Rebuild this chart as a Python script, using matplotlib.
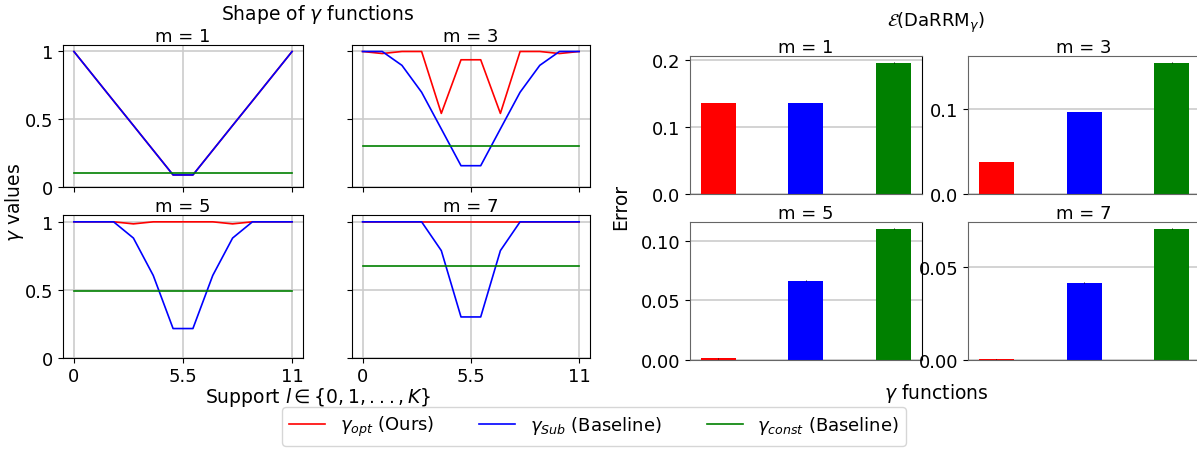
import matplotlib
matplotlib.use("Agg")
import matplotlib.pyplot as plt
import numpy as np

# ---- data ----
support = list(range(12))
m_values = [1, 3, 5, 7]

gamma_opt = {
    1: [1.0, 0.818, 0.636, 0.455, 0.273, 0.091, 0.091, 0.273, 0.455, 0.636, 0.818, 1.0],
    3: [1.0, 0.985, 1.0, 1.0, 0.544, 0.939, 0.939, 0.544, 1.0, 1.0, 0.985, 1.0],
    5: [1.0, 1.0, 1.0, 0.985, 1.0, 1.0, 1.0, 1.0, 0.985, 1.0, 1.0, 1.0],
    7: [1.0, 1.0, 1.0, 1.0, 1.0, 1.0, 1.0, 1.0, 1.0, 1.0, 1.0, 1.0],
}
gamma_sub = {
    1: [1.0, 0.818, 0.636, 0.455, 0.273, 0.091, 0.091, 0.273, 0.455, 0.636, 0.818, 1.0],
    3: [1.0, 1.0, 0.898, 0.70, 0.43, 0.159, 0.159, 0.43, 0.70, 0.898, 1.0, 1.0],
    5: [1.0, 1.0, 1.0, 0.881, 0.607, 0.218, 0.218, 0.607, 0.881, 1.0, 1.0, 1.0],
    7: [1.0, 1.0, 1.0, 1.0, 0.789, 0.303, 0.303, 0.789, 1.0, 1.0, 1.0, 1.0],
}
gamma_const = {1: 0.102, 3: 0.302, 5: 0.49, 7: 0.673}

methods = ["opt", "Sub", "const"]
err_opt = [0.1358, 0.0375, 0.0012, 0.0002]
err_sub = [0.1358, 0.0960, 0.0667, 0.0417]
err_const = [0.1960, 0.1540, 0.1107, 0.0710]
err_std = [0.0004, 0.0004, 0.0003, 0.0002]

xticks = [0, 5.5, 11]
xticklabels = ["0", "5.5", "11"]
yticks = [0, 0.5, 1]
yticklabels = ["0", "0.5", "1"]

bar_yticks = [[0.0, 0.1, 0.2], [0.0, 0.1], [0.0, 0.05, 0.10], [0.0, 0.05]]
bar_yticklabels = [["0.0", "0.1", "0.2"], ["0.0", "0.1"], ["0.00", "0.05", "0.10"], ["0.00", "0.05"]]

colors = ["red", "blue", "green"]
labels = [r"$\gamma_{opt}$ (Ours)", r"$\gamma_{Sub}$ (Baseline)", r"$\gamma_{const}$ (Baseline)"]

W, H = 1197, 452
fig = plt.figure(figsize=(W / 100, H / 100), dpi=100)

def ax_px(l, r, t, b):
    return fig.add_axes([l / W, 1 - b / H, (r - l) / W, (b - t) / H])

TICK_FS = 13
TITLE_FS = 13
LABEL_FS = 13.5

# ---- left: line plots ----
left_boxes = [(63, 303, 45.7, 188.3), (351.7, 590, 45.7, 188.3),
              (63, 303, 216, 359.3), (351.7, 590, 216, 359.3)]
handles = []
for i, m in enumerate(m_values):
    ax = ax_px(*left_boxes[i])
    h1, = ax.plot(support, gamma_opt[m], color=colors[0], lw=1.2)
    h2, = ax.plot(support, gamma_sub[m], color=colors[1], lw=1.2)
    h3, = ax.plot(support, [gamma_const[m]] * len(support), color=colors[2], lw=1.2)
    if i == 0:
        handles = [h1, h2, h3]
    ax.set_ylim(0, 1.05)
    ax.set_xticks(xticks)
    ax.set_yticks(yticks)
    ax.grid(True, color="0.8", lw=1.2)
    ax.set_axisbelow(True)
    ax.tick_params(axis="x", pad=2.5)
    ax.set_title(f"m = {m}", fontsize=TITLE_FS, pad=2)
    if i >= 2:
        ax.set_xticklabels(xticklabels, fontsize=TICK_FS)
    else:
        ax.set_xticklabels([])
    if i % 2 == 0:
        ax.set_yticklabels(yticklabels, fontsize=TICK_FS)
    else:
        ax.set_yticklabels([])

fig.text(318 / W, 1 - 14 / H, r"Shape of $\gamma$ functions", ha="center", va="center", fontsize=LABEL_FS)
fig.text(14 / W, 1 - 202 / H, r"$\gamma$ values", ha="center", va="center", rotation=90, fontsize=LABEL_FS)
fig.text(318 / W, 1 - 398 / H, r"Support $l \in \{0, 1, ..., K\}$", ha="center", va="center", fontsize=LABEL_FS)

# ---- right: bar plots ----
right_boxes = [(690, 921.7, 56.7, 195), (968.3, 1200, 56.7, 195),
               (690, 921.7, 222.7, 360.7), (968.3, 1200, 222.7, 360.7)]
bar_vals = [err_opt, err_sub, err_const]
for i, m in enumerate(m_values):
    ax = ax_px(*right_boxes[i])
    x = np.arange(len(methods))
    vals = [bar_vals[k][i] for k in range(3)]
    ax.bar(x, vals, width=0.4, color=colors, yerr=err_std[i], ecolor="black",
           error_kw=dict(lw=0.6))
    ax.set_xticks([])
    ax.set_yticks(bar_yticks[i])
    ax.set_yticklabels(bar_yticklabels[i], fontsize=TICK_FS)
    ax.yaxis.grid(True, color="0.8", lw=1.2)
    ax.set_axisbelow(True)
    for s in ax.spines.values():
        s.set_color("0.4")
    if i % 2 == 0:
        ax.spines["right"].set_color("black")
    ax.set_title(f"m = {m}", fontsize=TITLE_FS, pad=2)

fig.text(936 / W, 1 - 23 / H, r"$\mathcal{E}(\mathrm{DaRRM}_{\gamma})$", ha="center", va="center", fontsize=13)
fig.text(621 / W, 1 - 207 / H, "Error", ha="center", va="center", rotation=90, fontsize=LABEL_FS)
fig.text(936 / W, 1 - 394 / H, r"$\gamma$ functions", ha="center", va="center", fontsize=LABEL_FS)

fig.legend(handles, labels, loc="upper center", ncol=3, fontsize=13,
           bbox_to_anchor=(594 / W, 1 - 408 / H), frameon=True,
           handlelength=2.0, columnspacing=2.5, borderaxespad=0)

fig.savefig("out.png", dpi=100)
